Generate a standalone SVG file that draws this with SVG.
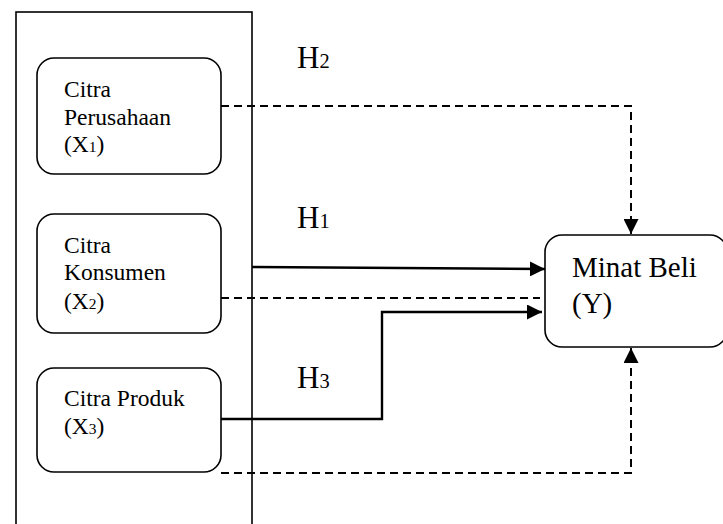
<svg xmlns="http://www.w3.org/2000/svg" width="723" height="524" viewBox="0 0 723 524">
<defs>
<style>
.box{fill:#fff;stroke:#000;stroke-width:1.6}
.t{font-family:"Liberation Serif","Times New Roman",serif;fill:#000}
.bt{font-size:23.5px}
.yt{font-size:29px}
.ht{font-size:31px}
.sub{font-size:0.66em}
.solid{fill:none;stroke:#000;stroke-width:2.4}
.dash{fill:none;stroke:#000;stroke-width:2;stroke-dasharray:8 5}
</style>
<marker id="ah" viewBox="0 0 10 10" refX="10" refY="5" markerWidth="15" markerHeight="15" markerUnits="userSpaceOnUse" orient="auto">
<path d="M0,0 L10,5 L0,10 z" fill="#000"/>
</marker>
</defs>
<rect width="723" height="524" fill="#fff"/>
<g id="frame"><rect x="16" y="12" width="236" height="530" fill="none" stroke="#000" stroke-width="1.6"/></g>
<g id="connectors">
<path class="dash" d="M221,106 H631 V234" marker-end="url(#ah)"/>
<path class="solid" d="M252,267 L545,269" marker-end="url(#ah)"/>
<path class="dash" d="M221,298 H540"/>
<path class="solid" d="M221,419 H382 V312 H542" marker-end="url(#ah)"/>
<path class="dash" d="M221,473 H631 V348" marker-end="url(#ah)"/>
</g>
<g id="x1">
<rect class="box" x="37" y="58" width="184" height="116" rx="17"/>
<text class="t bt" x="64" y="97">Citra</text>
<text class="t bt" x="64" y="125">Perusahaan</text>
<text class="t bt" x="64" y="152">(X<tspan class="sub">1</tspan>)</text>
</g>
<g id="x2">
<rect class="box" x="37" y="214" width="184" height="119" rx="17"/>
<text class="t bt" x="64" y="253">Citra</text>
<text class="t bt" x="64" y="280">Konsumen</text>
<text class="t bt" x="64" y="309">(X<tspan class="sub">2</tspan>)</text>
</g>
<g id="x3">
<rect class="box" x="37" y="368" width="184" height="104" rx="17"/>
<text class="t bt" x="64" y="406">Citra Produk</text>
<text class="t bt" x="64" y="434">(X<tspan class="sub">3</tspan>)</text>
</g>
<g id="y">
<rect class="box" x="545" y="235" width="182" height="112" rx="17"/>
<text class="t yt" x="572" y="277">Minat Beli</text>
<text class="t yt" x="572" y="313">(Y)</text>
</g>
<g id="labels">
<text class="t ht" x="297" y="68">H<tspan class="sub">2</tspan></text>
<text class="t ht" x="297" y="228">H<tspan class="sub">1</tspan></text>
<text class="t ht" x="297" y="388">H<tspan class="sub">3</tspan></text>
</g>
</svg>
